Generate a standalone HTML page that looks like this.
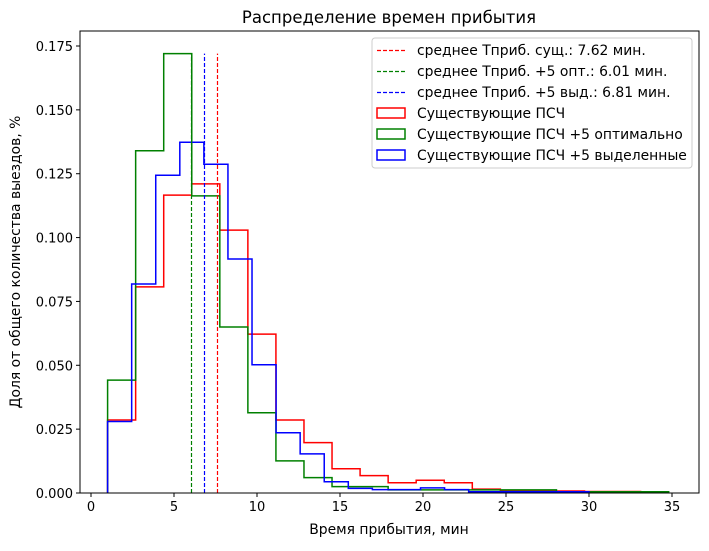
<!DOCTYPE html>
<html><head><meta charset="utf-8"><style>
body{margin:0;background:#fff}
text{font-family:"DejaVu Sans","Liberation Sans",sans-serif;fill:#000}
</style></head><body>
<svg id="chart" width="709" height="546" xmlns="http://www.w3.org/2000/svg"></svg>
<script>
const xTicks=[0,5,10,15,20,25,30,35];
const yTicks=[0,0.025,0.05,0.075,0.1,0.125,0.15,0.175];
const yTickLabels=["0.000","0.025","0.050","0.075","0.100","0.125","0.150","0.175"];
const binStartRed=1.0, binWidthRed=1.69;
const binStartGreen=1.0, binWidthGreen=1.69;
const binStartBlue=1.0, binWidthBlue=1.45;
const redValues=[0.0286,0.0807,0.1166,0.121,0.1029,0.0622,0.0286,0.0197,0.0095,0.0068,0.004,0.005,0.004,0.0015,0.0008,0.0008,0.0008,0.0006,0.0006];
const greenValues=[0.0442,0.134,0.172,0.1163,0.065,0.0314,0.0126,0.006,0.0025,0.0025,0.0012,0.0012,0.0012,0.0012,0.0012,0.0012,0.0005,0.0005,0.0005,0.0005];
const blueValues=[0.028,0.0818,0.1244,0.1373,0.1287,0.0916,0.0502,0.0236,0.0153,0.0044,0.0018,0.0013,0.0013,0.002,0.0013,0.0005,0.0005,0.0005,0.0005,0.0005];
const means=[7.62,6.01,6.81];
const meanColors=["#ff0000","#008000","#0000ff"];
const meanTop=0.172;
const legendLabels=["среднее Тприб. сущ.: 7.62 мин.","среднее Тприб. +5 опт.: 6.01 мин.","среднее Тприб. +5 выд.: 6.81 мин.","Существующие ПСЧ","Существующие ПСЧ +5 оптимально","Существующие ПСЧ +5 выделенные"];

const svg=document.getElementById('chart');
const NS="http://www.w3.org/2000/svg";
const L=80,R=699,T=31,B=493;
const x=v=>91+v*16.6;
const y=v=>493-v*(447/0.175);
function mk(tag,attrs,parent){const e=document.createElementNS(NS,tag);for(const k in attrs)e.setAttribute(k,attrs[k]);(parent||svg).appendChild(e);return e;}

function hist(vals,start,w,color,name){
  let d="M"+x(start)+","+y(0);
  vals.forEach((v,i)=>{d+=" L"+x(start+i*w)+","+y(v)+" L"+x(start+(i+1)*w)+","+y(v);});
  d+=" L"+x(start+vals.length*w)+","+y(0);
  const p=mk('path',{d:d,fill:"none",stroke:color,"stroke-width":1.5});
  
  
}
hist(redValues,binStartRed,binWidthRed,"#ff0000","histogram-existing");
hist(greenValues,binStartGreen,binWidthGreen,"#008000","histogram-plus5-optimal");
hist(blueValues,binStartBlue,binWidthBlue,"#0000ff","histogram-plus5-dedicated");
means.forEach((m,i)=>{
  const px=Math.round(x(m))+0.5;
  const l=mk('line',{x1:px,x2:px,y1:y(0),y2:y(meanTop),stroke:meanColors[i],"stroke-width":1.2,"stroke-dasharray":"4,2"});
  
  
});
const frame=mk('rect',{x:L,y:T,width:R-L,height:B-T,fill:"none",stroke:"#000","stroke-width":1});


xTicks.forEach(t=>{
  mk('line',{x1:x(t),x2:x(t),y1:B,y2:B+4,stroke:"#000"});
  const tx=mk('text',{x:x(t),y:B+18,"font-size":"13","text-anchor":"middle"});tx.textContent=t;
  
  
});
yTicks.forEach((t,i)=>{
  mk('line',{x1:L-4,x2:L,y1:y(t),y2:y(t),stroke:"#000"});
  const tx=mk('text',{x:L-7,y:y(t)+5,"font-size":"13","text-anchor":"end"});tx.textContent=yTickLabels[i];
  
  
});
const title=mk('text',{x:389,y:23,"font-size":"16.5","text-anchor":"middle"});title.textContent="Распределение времен прибытия";


const xt=mk('text',{x:389,y:534,"font-size":"13.9","text-anchor":"middle"});xt.textContent="Время прибытия, мин";


const yt=mk('text',{x:0,y:0,"font-size":"13.9","text-anchor":"middle",transform:"translate(20,262) rotate(-90)"});yt.textContent="Доля от общего количества выездов, %";


const lg=mk('g',{});


mk('rect',{x:372,y:38,width:320,height:130,rx:3,fill:"#fff","fill-opacity":0.8,stroke:"#ccc"},lg);
const cols=["#ff0000","#008000","#0000ff","#ff0000","#008000","#0000ff"];
legendLabels.forEach((s,i)=>{
  const cy=50+i*21;
  if(i<3) mk('line',{x1:377,x2:405,y1:cy+0.5,y2:cy+0.5,stroke:cols[i],"stroke-width":1.2,"stroke-dasharray":"4,2"},lg);
  else mk('rect',{x:377,y:cy-5,width:28,height:10,fill:"none",stroke:cols[i],"stroke-width":1.5},lg);
  const t=mk('text',{x:417,y:cy+5,"font-size":"13.9"},lg);t.textContent=s;
  
  
});
</script>
</body></html>
